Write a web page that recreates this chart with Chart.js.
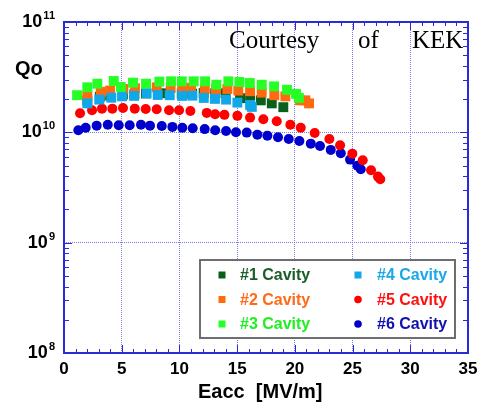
<!DOCTYPE html>
<html>
<head>
<meta charset="utf-8">
<script src="https://cdn.jsdelivr.net/npm/chart.js@4.4.1/dist/chart.umd.min.js"></script>
<style>
  html, body { margin: 0; padding: 0; background: #fff; }
</style>
</head>
<body>
<canvas id="qoChart" width="479" height="403"></canvas>
<script>
// Eacc [MV/m] and Qo (in units of 1e10)
const cav1X = [2.02, 3.1, 4.0, 5.1, 6.1, 7.1, 8.84, 10.2, 11.1, 12.1, 13.1, 14.0, 15.25, 16.12, 17.05, 18.0, 19.0];
const cav1Q = [1.95, 2.1, 2.15, 2.2, 2.22, 2.25, 2.26, 2.24, 2.24, 2.27, 2.26, 2.26, 2.04, 2.04, 1.95, 1.83, 1.69];

const cav2X = [2.02, 3.18, 3.99, 5.14, 6.15, 8.03, 9.24, 10.23, 11.01, 12.2, 13.17, 14.15, 15.1, 16.12, 17.13, 18.22, 19.18, 20.45, 20.91, 21.23];
const cav2Q = [2.14, 2.33, 2.39, 2.47, 2.51, 2.56, 2.52, 2.54, 2.54, 2.47, 2.46, 2.47, 2.39, 2.36, 2.29, 2.17, 2.12, 1.95, 1.95, 1.83];

const cav3X = [1.13, 2.02, 2.89, 4.31, 4.92, 5.98, 7.11, 8.26, 9.27, 10.2, 11.24, 12.22, 13.2, 14.24, 15.2, 16.1, 17.13, 18.2, 19.32, 20.1, 20.35];
const cav3Q = [2.17, 2.56, 2.76, 2.92, 2.58, 2.82, 2.76, 2.88, 2.90, 2.90, 2.90, 2.90, 2.70, 2.90, 2.86, 2.80, 2.70, 2.61, 2.43, 2.23, 2.05];

const cav4X = [2.02, 3.06, 4.1, 5.03, 6.07, 7.16, 8.12, 9.16, 10.23, 11.12, 12.11, 13.08, 14.04, 15.02, 16.12, 16.27];
const cav4Q = [1.83, 1.98, 2.06, 2.12, 2.14, 2.26, 2.18, 2.17, 2.14, 2.15, 2.05, 2.01, 1.98, 1.86, 1.77, 1.70];

const cav5X = [1.39, 2.43, 3.29, 4.19, 5.11, 6.13, 7.08, 8.03, 9.1, 9.97, 10.95, 12.37, 13.09, 13.9, 15.02, 16.12, 17.27, 18.43, 19.61, 20.51, 21.72, 22.99, 23.92, 24.98, 25.88, 26.6, 27.2, 27.4];
const cav5Q = [1.49, 1.585, 1.64, 1.64, 1.66, 1.64, 1.63, 1.62, 1.585, 1.585, 1.56, 1.50, 1.46, 1.44, 1.41, 1.36, 1.315, 1.26, 1.17, 1.10, 0.988, 0.871, 0.764, 0.641, 0.559, 0.453, 0.397, 0.376];

const cav6X = [1.24, 1.88, 2.83, 3.79, 4.74, 5.69, 6.67, 7.45, 8.47, 9.39, 10.25, 11.15, 12.19, 13.1, 14.04, 14.9, 15.83, 16.75, 17.62, 18.54, 19.47, 20.39, 21.38, 22.18, 23.11, 23.98, 24.78, 25.42, 25.71];
const cav6Q = [1.045, 1.10, 1.15, 1.17, 1.16, 1.16, 1.17, 1.15, 1.14, 1.12, 1.10, 1.09, 1.07, 1.045, 1.03, 1.0, 0.994, 0.953, 0.933, 0.903, 0.871, 0.836, 0.79, 0.753, 0.693, 0.647, 0.566, 0.497, 0.463];

const xTicks = [0, 5, 10, 15, 20, 25, 30, 35];
const yDecades = [8, 9, 10, 11];
const seriesLabels = ['#1 Cavity', '#2 Cavity', '#3 Cavity', '#4 Cavity', '#5 Cavity', '#6 Cavity'];

const SERIES = [
  { x: cav1X, q: cav1Q, color: '#08601c', text: '#1a5e2a', style: 'rect', order: 4 },
  { x: cav2X, q: cav2Q, color: '#ff6a10', text: '#ff6a1a', style: 'rect', order: 3 },
  { x: cav3X, q: cav3Q, color: '#26ff26', text: '#22ee22', style: 'rect', order: 1 },
  { x: cav4X, q: cav4Q, color: '#10a8e8', text: '#1aa8e8', style: 'rect', order: 2 },
  { x: cav5X, q: cav5Q, color: '#ff0000', text: '#ff1010', style: 'circle', order: 5 },
  { x: cav6X, q: cav6Q, color: '#0000cc', text: '#1010b0', style: 'circle', order: 6 }
];

const AXIS_BLUE = '#2a2ad8';
const GRID_BLUE = '#7b7bea';

const datasets = SERIES.map((s, i) => ({
  label: seriesLabels[i],
  data: s.x.map((x, j) => ({ x, y: s.q[j] * 1e10 })),
  backgroundColor: s.color,
  borderColor: s.color,
  pointStyle: s.style,
  pointRadius: s.style === 'rect' ? 7 : 5,
  pointBorderWidth: 0,
  showLine: false,
  order: s.order
}));

// frame, ticks, labels, titles and legend drawn on the canvas
const decor = {
  id: 'decor',
  beforeDatasetsDraw(chart) {
    const ctx = chart.ctx;
    ctx.save();
    ctx.fillStyle = '#000';
    ctx.font = '25px "Liberation Serif", "Times New Roman", serif';
    ctx.textBaseline = 'alphabetic';
    ctx.textAlign = 'left';
    ctx.fillText('Courtesy', 229, 48);
    ctx.fillText('of', 358, 48);
    ctx.fillText('KEK', 412, 48);
    ctx.restore();
  },
  afterDraw(chart) {
    const ctx = chart.ctx;
    const { left, right, top, bottom } = chart.chartArea;
    const xs = chart.scales.x;
    const ys = chart.scales.y;
    ctx.save();

    // frame
    ctx.strokeStyle = AXIS_BLUE;
    ctx.lineWidth = 2;
    ctx.strokeRect(left, top, right - left, bottom - top);

    // x ticks (inside, top and bottom)
    ctx.lineWidth = 1;
    for (let v = 1; v < 35; v++) {
      const px = Math.round(xs.getPixelForValue(v)) + 0.5;
      const len = v % 5 === 0 ? 8 : 4;
      ctx.beginPath();
      ctx.moveTo(px, bottom); ctx.lineTo(px, bottom - len);
      ctx.moveTo(px, top); ctx.lineTo(px, top + len);
      ctx.stroke();
    }
    // y ticks (inside, left and right)
    for (let d = 8; d <= 10; d++) {
      for (let m = 1; m <= 9; m++) {
        if (d === 8 && m === 1) continue;
        const py = Math.round(ys.getPixelForValue(m * Math.pow(10, d))) + 0.5;
        const len = m === 1 ? 8 : 5;
        ctx.beginPath();
        ctx.moveTo(left, py); ctx.lineTo(left + len, py);
        ctx.moveTo(right, py); ctx.lineTo(right - len, py);
        ctx.stroke();
      }
    }

    // x tick labels
    ctx.fillStyle = '#000';
    ctx.font = 'bold 17px "Liberation Sans", Arial, sans-serif';
    ctx.textAlign = 'center';
    ctx.textBaseline = 'alphabetic';
    xTicks.forEach(v => ctx.fillText(String(v), xs.getPixelForValue(v), 374));

    // y tick labels as 10 with superscript exponent
    yDecades.forEach(d => {
      const py = ys.getPixelForValue(Math.pow(10, d));
      ctx.font = 'bold 11px "Liberation Sans", Arial, sans-serif';
      ctx.textAlign = 'right';
      const expW = ctx.measureText(String(d)).width;
      ctx.fillText(String(d), 55, py - 3);
      ctx.font = 'bold 18px "Liberation Sans", Arial, sans-serif';
      ctx.fillText('10', 55 - expW - 1, py + 5);
    });

    // axis titles
    ctx.font = 'bold 20px "Liberation Sans", Arial, sans-serif';
    ctx.textAlign = 'left';
    ctx.fillText('Qo', 15, 75);
    ctx.fillText('Eacc  [MV/m]', 198, 398);

    // legend box
    ctx.fillStyle = '#fff';
    ctx.fillRect(200, 260, 255, 78);
    ctx.strokeStyle = '#6e6e6e';
    ctx.lineWidth = 2;
    ctx.strokeRect(200, 260, 255, 78);
    const rowsY = [275, 299.5, 324];
    ctx.font = 'bold 16px "Liberation Sans", Arial, sans-serif';
    ctx.textBaseline = 'middle';
    SERIES.forEach((s, i) => {
      const col = i < 3 ? 0 : 1;
      const y = rowsY[i % 3];
      const mx = col === 0 ? 222 : 358;
      const tx = col === 0 ? 240 : 377;
      ctx.fillStyle = s.color;
      if (s.style === 'rect') {
        ctx.fillRect(mx - 3.5, y - 3.5, 7, 7);
      } else {
        ctx.beginPath();
        ctx.arc(mx, y, 3.8, 0, Math.PI * 2);
        ctx.fill();
      }
      ctx.fillStyle = s.text;
      ctx.fillText(seriesLabels[i], tx, y + 1);
    });
    ctx.restore();
  }
};

new Chart(document.getElementById('qoChart'), {
  type: 'scatter',
  data: { datasets },
  options: {
    responsive: false,
    animation: false,
    devicePixelRatio: 1,
    events: [],
    layout: { padding: { left: 64, right: 11, top: 22, bottom: 50 } },
    scales: {
      x: {
        type: 'linear',
        min: 0,
        max: 35,
        afterFit: s => { s.height = 0; },
        ticks: { display: false, stepSize: 5 },
        border: { display: false, dash: [1, 1] },
        grid: {
          drawTicks: false,
          color: c => (c.tick && (c.tick.value === 0 || c.tick.value === 35)) ? 'rgba(0,0,0,0)' : GRID_BLUE
        }
      },
      y: {
        type: 'logarithmic',
        min: 1e8,
        max: 1e11,
        afterFit: s => { s.width = 0; },
        afterBuildTicks: s => { s.ticks = yDecades.map(d => ({ value: Math.pow(10, d) })); },
        ticks: { display: false },
        border: { display: false, dash: [1, 1] },
        grid: {
          drawTicks: false,
          color: c => (c.tick && (c.tick.value <= 1e8 || c.tick.value >= 1e11)) ? 'rgba(0,0,0,0)' : GRID_BLUE
        }
      }
    },
    plugins: {
      legend: { display: false },
      tooltip: { enabled: false }
    }
  },
  plugins: [decor]
});
</script>
</body>
</html>
